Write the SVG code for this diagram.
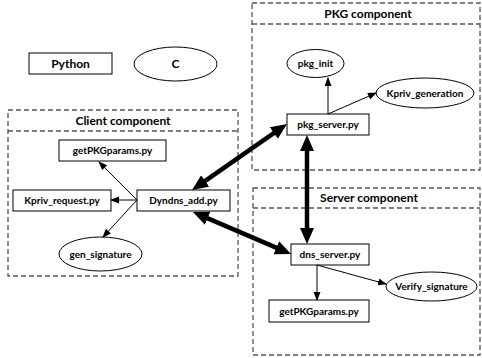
<svg xmlns="http://www.w3.org/2000/svg" width="482" height="358" viewBox="0 0 482 358">
<style>
text{font-family:Lato,"Liberation Sans",sans-serif;font-weight:bold;fill:#000;text-anchor:middle}
.t{font-size:10px}
.h{font-size:12px}
.n{fill:#fff;stroke:#000;stroke-width:1}
.grp{fill:none;stroke:#555;stroke-width:1.3;stroke-dasharray:5,3}
.thin{stroke:#000;stroke-width:1;fill:none;marker-end:url(#a)}
.thick{stroke:#000;stroke-width:4.5;fill:none;marker-start:url(#b);marker-end:url(#b)}
</style>
<defs>
<marker id="a" markerUnits="userSpaceOnUse" markerWidth="9" markerHeight="8" refX="8" refY="3.5" orient="auto"><path d="M0,0 L9,3.5 L0,7 z" fill="#000"/></marker>
<marker id="b" markerUnits="userSpaceOnUse" markerWidth="17" markerHeight="15" refX="3" refY="7" orient="auto-start-reverse"><path d="M0,0 L16,7 L0,14 z" fill="#000"/></marker>
</defs>
<g id="client-component"><rect class="grp" x="8" y="110" width="230" height="166"/><line class="grp" x1="8" y1="131" x2="238" y2="131"/><text class="h" x="123" y="124.5">Client component</text></g>
<g id="pkg-component"><rect class="grp" x="252" y="3" width="228" height="167"/><line class="grp" x1="252" y1="24" x2="480" y2="24"/><text class="h" x="368" y="18">PKG component</text></g>
<g id="server-component"><rect class="grp" x="253" y="188" width="227" height="167"/><line class="grp" x1="253" y1="208" x2="480" y2="208"/><text class="h" x="369" y="202">Server component</text></g>
<g id="legend-python"><rect class="n" x="29" y="53" width="83" height="21"/><text class="h" x="70.5" y="68">Python</text></g>
<g id="legend-c"><ellipse class="n" cx="175.5" cy="64" rx="41.5" ry="17"/><text class="h" x="175.5" y="68">C</text></g>
<g id="client-getpkgparams"><rect class="n" x="59" y="140" width="107" height="21"/><text class="t" x="112.5" y="154">getPKGparams.py</text></g>
<g id="kpriv-request"><rect class="n" x="13" y="190" width="98" height="21"/><text class="t" x="62" y="204">Kpriv_request.py</text></g>
<g id="dyndns-add"><rect class="n" x="137" y="190" width="93" height="21"/><text class="t" x="183.5" y="204">Dyndns_add.py</text></g>
<g id="gen-signature"><ellipse class="n" cx="100.5" cy="254" rx="41.5" ry="17"/><text class="t" x="100.5" y="258">gen_signature</text></g>
<g id="pkg-init"><ellipse class="n" cx="315.5" cy="63.5" rx="28.5" ry="14"/><text class="t" x="315.5" y="67">pkg_init</text></g>
<g id="kpriv-generation"><ellipse class="n" cx="425" cy="93" rx="49" ry="15"/><text class="t" x="425" y="96.5">Kpriv_generation</text></g>
<g id="pkg-server"><rect class="n" x="287" y="114" width="82" height="21"/><text class="t" x="328" y="128">pkg_server.py</text></g>
<g id="dns-server"><rect class="n" x="291" y="244" width="78" height="21"/><text class="t" x="330" y="258">dns_server.py</text></g>
<g id="server-getpkgparams"><rect class="n" x="269" y="300" width="100" height="22"/><text class="t" x="319" y="314.5">getPKGparams.py</text></g>
<g id="verify-signature"><ellipse class="n" cx="431.5" cy="286.5" rx="45.5" ry="14.5"/><text class="t" x="431.5" y="290">Verify_signature</text></g>
<g id="connectors">
<line class="thin" x1="137" y1="200" x2="99" y2="162"/>
<line class="thin" x1="137" y1="200" x2="111" y2="200"/>
<line class="thin" x1="137" y1="200" x2="103" y2="237"/>
<line class="thin" x1="328" y1="114" x2="328" y2="78"/>
<line class="thin" x1="328" y1="114" x2="376" y2="93"/>
<line class="thin" x1="317" y1="265" x2="317" y2="300"/>
<line class="thin" x1="317" y1="265" x2="386" y2="284"/>
<line class="thick" x1="202.7" y1="182.6" x2="276.3" y2="131.4"/>
<line class="thick" x1="204.9" y1="217.1" x2="279.1" y2="248.9"/>
<line class="thick" x1="307" y1="148" x2="307" y2="231"/>
</g>
</svg>
